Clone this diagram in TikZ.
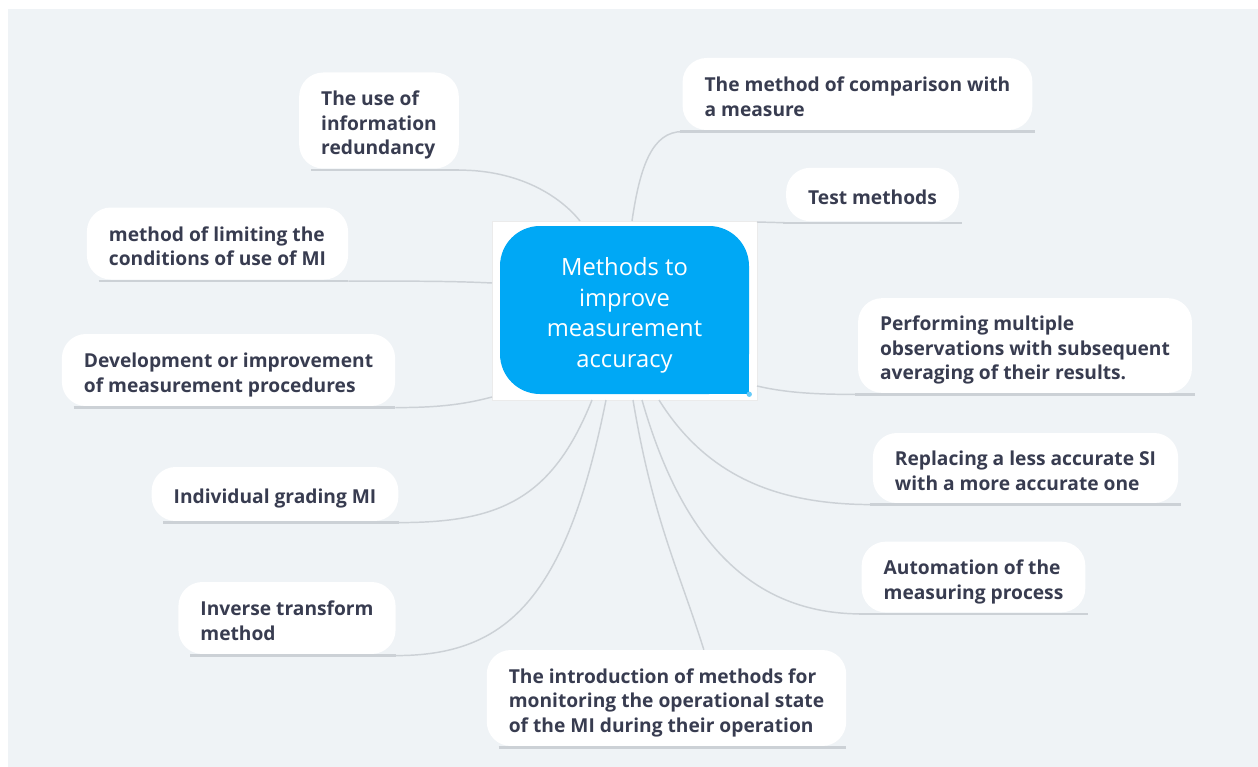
\documentclass[tikz,border=0pt]{standalone}
\usepackage{fontspec}
\setmainfont{Open Sans}
\definecolor{bgc}{RGB}{239,243,246}
\definecolor{rootc}{RGB}{0,168,245}
\definecolor{txtc}{RGB}{56,60,80}
\definecolor{linec}{RGB}{204,209,214}
\newcommand{\topictext}[1]{\raisebox{0pt}[\dimexpr\height+7.5pt\relax][\depth]{\begin{tabular}{@{}l@{}}#1\end{tabular}}}
\tikzset{
  topic/.style={rectangle,rounded corners=18pt,fill=white,text=txtc,
    font=\fontsize{14.4}{18.4}\selectfont\bfseries,inner xsep=16.5pt,inner ysep=0pt},
  link/.style={draw=linec,line width=1.1pt},
  uline/.style={draw=linec,line width=1.7pt}
}
\begin{document}
\begin{tikzpicture}[x=0.75pt,y=-0.75pt]
\useasboundingbox (0,0) rectangle (1258,767);
\fill[white] (0,0) rectangle (1258,767);
\fill[bgc] (8,9) rectangle (1258,767);
\node[draw=black!8,fill=white,minimum width=198.75pt,minimum height=134.25pt,inner sep=0pt] (frame) at (624.5,310.5) {};
\node[fill=rootc,rounded corners=30pt,minimum width=186.75pt,minimum height=126pt,inner sep=0pt] (root) at (624.5,310) {};
\fill[rootc] (root.south east) rectangle ++(-40,-40);
\fill[rootc!60!white] (root.south east) circle (2pt);
\node[text=white,align=center,font=\fontsize{17.8}{23.25}\selectfont] (rootlbl) at ([yshift=-4pt]root.center) {Methods to\\improve\\measurement\\accuracy};
\node[topic,minimum height=72pt] (redund) at (379,120.5) {\topictext{The use of\\information\\redundancy}};
\node[topic,minimum height=54pt] (compare) at (857.5,94) {\topictext{The method of comparison with\\a measure}};
\node[topic,minimum height=40pt] (test) at (872.5,194.5) {\topictext{Test methods}};
\node[topic,minimum height=71pt] (multi) at (1025,345.5) {\topictext{Performing multiple\\observations with subsequent\\averaging of their results.}};
\node[topic,minimum height=52.5pt] (replace) at (1025.5,468) {\topictext{Replacing a less accurate SI\\with a more accurate one}};
\node[topic,minimum height=53pt] (auto) at (973.5,577) {\topictext{Automation of the\\measuring process}};
\node[topic,minimum height=72pt] (monitor) at (666.5,698) {\topictext{The introduction of methods for\\monitoring the operational state\\of the MI during their operation}};
\node[topic,minimum height=54pt] (inverse) at (287,618) {\topictext{Inverse transform\\method}};
\node[topic,minimum height=40.5pt] (grading) at (275,494) {\topictext{Individual grading MI}};
\node[topic,minimum height=54pt] (proc) at (228.5,370) {\topictext{Development or improvement\\of measurement procedures}};
\node[topic,minimum height=54pt] (limit) at (217.5,243.5) {\topictext{method of limiting the\\conditions of use of MI}};
\coordinate (p-redund) at (580,221);
\coordinate (p-compare) at (632,221);
\coordinate (p-test) at (757,222);
\coordinate (p-multi) at (757,386);
\coordinate (p-replace) at (659,400);
\coordinate (p-auto) at (642,400);
\coordinate (p-monitor) at (633,400);
\coordinate (p-inverse) at (606,400);
\coordinate (p-grading) at (592,400);
\coordinate (p-proc) at (492,397);
\coordinate (p-limit) at (492,283);
\draw[link] (p-redund) .. controls +(-20,-25) and +(60,0) .. ([yshift=-1pt]redund.south east);
\draw[link] (p-compare) .. controls +(8,-55) and +(-30,0) .. ([yshift=-1pt]compare.south west);
\draw[link] (p-test) -- ([yshift=-1pt]test.south west);
\draw[link] (p-multi) .. controls +(30,7) and +(-40,0) .. ([yshift=-1pt]multi.south west);
\draw[link] (p-replace) .. controls +(50,80) and +(-90,0) .. ([yshift=-1pt]replace.south west);
\draw[link] (p-auto) .. controls +(40,140) and +(-110,0) .. ([yshift=-1pt]auto.south west);
\draw[link] (p-monitor) .. controls +(20,120) and +(-25,-80) .. ([xshift=28pt]monitor.north);
\draw[link] (p-inverse) .. controls +(-40,200) and +(110,0) .. ([yshift=-1pt]inverse.south east);
\draw[link] (p-grading) .. controls +(-40,100) and +(100,0) .. ([yshift=-1pt]grading.south east);
\draw[link] (p-proc) .. controls +(-30,8) and +(40,0) .. ([yshift=-1pt]proc.south east);
\draw[link] (p-limit) .. controls +(-40,-2) and +(60,0) .. ([yshift=-1pt]limit.south east);
\foreach \n in {redund,inverse,grading,proc,limit}
  \draw[uline] ([xshift=9pt,yshift=-1pt]\n.south west) -- ([yshift=-1pt]\n.south east);
\foreach \n in {compare,test,multi,replace,auto}
  \draw[uline] ([xshift=-2pt,yshift=-1pt]\n.south west) -- ([xshift=2pt,yshift=-1pt]\n.south east);
\draw[uline] ([xshift=9pt,yshift=-1pt]monitor.south west) -- ([yshift=-1pt]monitor.south east);
\end{tikzpicture}
\end{document}
